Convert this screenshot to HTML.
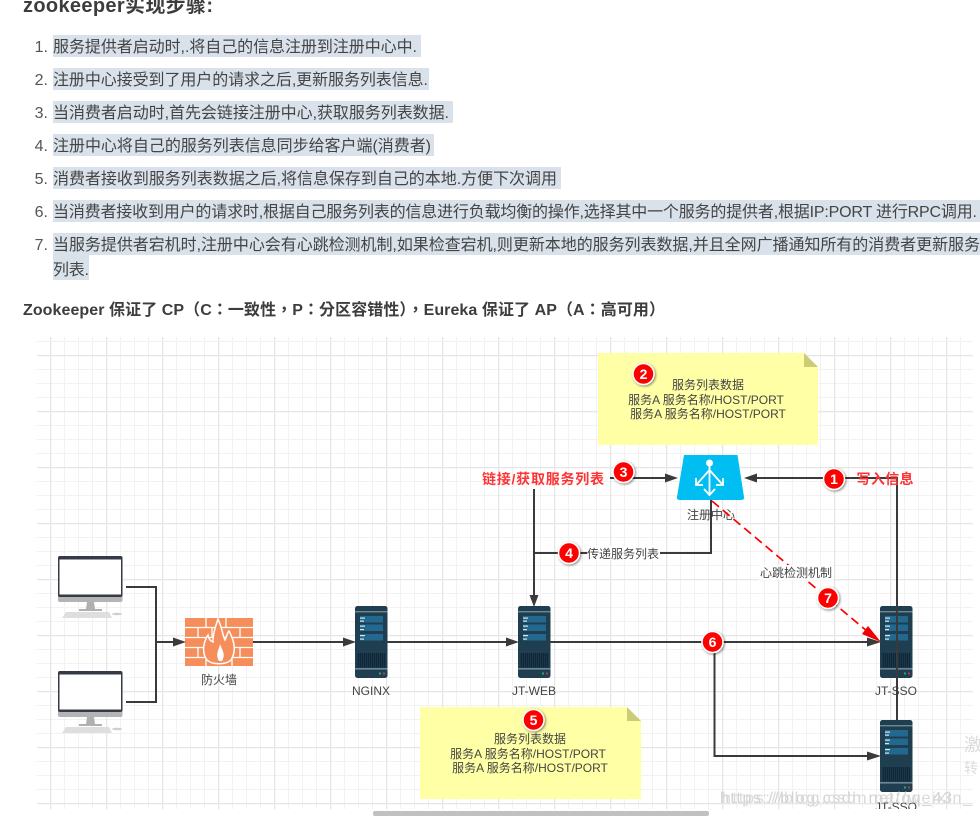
<!DOCTYPE html>
<html>
<head>
<meta charset="utf-8">
<style>
html,body{margin:0;padding:0;background:#fff;width:980px;height:816px;overflow:hidden}
svg{display:block;font-family:"Liberation Sans","Noto Sans CJK SC",sans-serif}
.li{font-size:16px;fill:#444}
.n{font-size:16px;fill:#555;text-anchor:end}
.b{font-size:16px;font-weight:bold;fill:#3d3d3d;font-family:"Liberation Sans","Noto Sans CJK TC",sans-serif}
.t{font-size:12px;fill:#444;text-anchor:middle}
.r{font-size:14px;font-weight:bold;fill:#ff3333;text-anchor:middle}
.c{font-size:14px;font-weight:bold;fill:#fff;text-anchor:middle;font-family:"Liberation Sans",sans-serif}
.l{stroke:#3a3a3a;stroke-width:2;fill:none}
.a{fill:#3a3a3a}
.w{fill:#dcdcdc}
</style>
</head>
<body>
<svg width="980" height="816" viewBox="0 0 980 816" xmlns="http://www.w3.org/2000/svg">
<defs>
<pattern id="g" patternUnits="userSpaceOnUse" x="50" y="355" width="56" height="56">
<path d="M14.5 0V56M28.5 0V56M42.5 0V56M0 14.5H56M0 28.5H56M0 42.5H56" stroke="#f2f2f2" stroke-width="1" fill="none"/>
<path d="M.5 0V56M0 .5H56" stroke="#e6e6e6" stroke-width="1.5" fill="none"/>
</pattern>
<pattern id="gr" patternUnits="userSpaceOnUse" width="2" height="4">
<rect width="2" height="4" fill="#10283a"/><rect width="1" height="4" fill="#1a3648"/>
</pattern>
<filter id="s" x="-30%" y="-30%" width="170%" height="170%"><feDropShadow dx="1" dy="1" stdDeviation="1.2" flood-color="#000" flood-opacity=".5"/></filter>
<g id="srv">
<rect width="32.5" height="72" rx="2.5" fill="#1f3f50"/>
<rect y="5" width="32.5" height="1.4" fill="#6f8794"/>
<rect y="62" width="32.5" height="1.6" fill="#6f8794"/>
<rect x="5" y="10" width="23" height="6.5" fill="#23698f"/>
<rect x="5" y="18.5" width="23" height="6.5" fill="#23698f"/>
<rect x="5" y="28" width="23" height="6.5" fill="#23698f"/>
<rect x="5" y="11.5" width="5" height="1.2" fill="#d6e8f0"/>
<rect x="5" y="14.5" width="4" height="1.2" fill="#d6e8f0"/>
<rect x="5" y="19.5" width="5" height="1.2" fill="#d6e8f0"/>
<rect x="5" y="23" width="4" height="1.2" fill="#d6e8f0"/>
<rect x="5" y="29" width="5" height="1.2" fill="#d6e8f0"/>
<rect x="5" y="32.5" width="4" height="1.2" fill="#d6e8f0"/>
<rect x="2" y="47" width="28.5" height="14.5" fill="url(#gr)"/>
<rect x="24" y="66.5" width="2" height="2" fill="#2fa56a"/>
<rect x="28" y="66.5" width="2" height="2" fill="#c2344a"/>
</g>
<g id="mon">
<rect width="64.5" height="46" rx="2" fill="#b4b4b4"/>
<rect width="64.5" height="41" rx="2" fill="#343a46"/>
<rect x="1.5" y="3.5" width="61.5" height="35" fill="#fff"/>
<path d="M29 46h7l1 7h-9z" fill="#b0b0b0"/>
<rect x="21" y="53" width="23" height="2" fill="#b0b0b0"/>
<path d="M8 56h43l3 6H4z" fill="#dedede"/>
<ellipse cx="59" cy="58" rx="5" ry="1.3" fill="#cfcfcf"/>
</g>
</defs>

<rect width="980" height="816" fill="#fff"/>

<text x="23" y="12" font-size="20" font-weight="bold" fill="#3d3d3d" textLength="190">zookeeper实现步骤:</text>

<g fill="#d9e2ea">
<rect x="53" y="35" width="368" height="22"/>
<rect x="53" y="68" width="376" height="22"/>
<rect x="53" y="101" width="400" height="22"/>
<rect x="53" y="134" width="381" height="22"/>
<rect x="53" y="167" width="508" height="22"/>
<rect x="53" y="200" width="927" height="22"/>
<rect x="53" y="233" width="927" height="22"/>
<rect x="53" y="255" width="36" height="25"/>
</g>
<text class="n" x="48" y="52">1.</text>
<text class="n" x="48" y="85">2.</text>
<text class="n" x="48" y="118">3.</text>
<text class="n" x="48" y="151">4.</text>
<text class="n" x="48" y="184">5.</text>
<text class="n" x="48" y="217">6.</text>
<text class="n" x="48" y="250">7.</text>
<text class="li" x="53" y="52" textLength="364">服务提供者启动时,.将自己的信息注册到注册中心中.</text>
<text class="li" x="53" y="85" textLength="375">注册中心接受到了用户的请求之后,更新服务列表信息.</text>
<text class="li" x="53" y="118" textLength="396">当消费者启动时,首先会链接注册中心,获取服务列表数据.</text>
<text class="li" x="53" y="151" textLength="378">注册中心将自己的服务列表信息同步给客户端(消费者)</text>
<text class="li" x="53" y="184" textLength="504">消费者接收到服务列表数据之后,将信息保存到自己的本地.方便下次调用</text>
<text class="li" x="53" y="217" textLength="924">当消费者接收到用户的请求时,根据自己服务列表的信息进行负载均衡的操作,选择其中一个服务的提供者,根据IP:PORT 进行RPC调用.</text>
<text class="li" x="53" y="250" textLength="927">当服务提供者宕机时,注册中心会有心跳检测机制,如果检查宕机,则更新本地的服务列表数据,并且全网广播通知所有的消费者更新服务</text>
<text class="li" x="53" y="275" textLength="36">列表.</text>
<text class="b" x="23" y="315" textLength="642">Zookeeper 保证了 CP（C：一致性，P：分区容错性），Eureka 保证了 AP（A：高可用）</text>

<rect x="37" y="337" width="936" height="472" fill="url(#g)"/>

<!-- notes -->
<path d="M598 353H804L818 367V445H598Z" fill="#ffffa6"/>
<path d="M804 353L818 367H804Z" fill="#cccc78"/>
<path d="M420 707H627L641 721V799H420Z" fill="#ffffa6"/>
<path d="M627 707L641 721H627Z" fill="#cccc78"/>
<text class="t" x="708" y="389">服务列表数据</text>
<text class="t" x="706" y="404">服务A 服务名称/HOST/PORT</text>
<text class="t" x="708" y="418">服务A 服务名称/HOST/PORT</text>
<text class="t" x="530" y="743">服务列表数据</text>
<text class="t" x="528" y="758">服务A 服务名称/HOST/PORT</text>
<text class="t" x="530" y="772">服务A 服务名称/HOST/PORT</text>

<!-- monitors -->
<use href="#mon" x="58" y="556"/>
<use href="#mon" x="58" y="671"/>

<!-- firewall -->
<rect x="185" y="618" width="68" height="48" fill="#f58e5a"/>
<path d="M185 627.5H253M185 637.5H253M185 647.5H253M185 657.5H253M206 618V627M226 618V627M198 628V637M212 628V637M240 628V637M206 638V647M232 638V647M198 648V657M240 648V657M206 658V666M232 658V666" stroke="#fff" stroke-width="1.3" fill="none"/>
<path d="M218 619C223 630 222 634 225 640C227 636 227 633 229 631C235 642 236 652 231 660C226 665 212 665 207 660C201 652 204 641 208 635C209 640 211 641 213 642C213 634 215 628 218 619Z" fill="#f58e5a" stroke="#fff" stroke-width="1.5"/>
<path d="M219 661C215 654 219 650 220 644C222 650 226 654 222 661Z" fill="#fff"/>
<text class="t" x="219" y="684">防火墙</text>

<!-- servers -->
<use href="#srv" x="355" y="606"/>
<use href="#srv" x="518" y="606"/>
<use href="#srv" x="880" y="606"/>
<use href="#srv" x="880" y="720"/>
<text class="t" x="371" y="695">NGINX</text>
<text class="t" x="534" y="695">JT-WEB</text>
<text class="t" x="896" y="695">JT-SSO</text>
<text class="t" x="896" y="811">JT-SSO</text>
<rect x="860" y="809" width="60" height="7" fill="#fff"/>

<!-- registry -->
<path d="M684 455H737.500L744 497Q744.500 500 741 500H680Q676.500 500 677 497Z" fill="#00bdf2"/>
<g stroke="#fff" stroke-width="1.8" fill="none">
<path d="M709.500 464V494"/>
<path d="M709.500 470L697 484M709.500 470L722 484"/>
<path d="M704 489L709.500 495L715 489M696 478V485H703M723 478V485H716"/>
</g>
<circle cx="709.500" cy="463" r="3.500" fill="#fff"/>
<text class="t" x="711" y="519">注册中心</text>

<!-- connectors -->
<path class="l" d="M126 587H156V702H126M156 642H175"/>
<path class="a" d="M173 637.500L186 642L173 646.500Z"/>
<path class="l" d="M253 642H345"/>
<path class="a" d="M343 637.500L356 642L343 646.500Z"/>
<path class="l" d="M387 642H508"/>
<path class="a" d="M506 637.500L519 642L506 646.500Z"/>
<path class="l" d="M550 642H870"/>
<path class="a" d="M867 637.500L881 642L867 646.500Z"/>
<path class="l" d="M714.500 650V756H870"/>
<path class="a" d="M867 751.500L881 756L867 760.500Z"/>
<path class="l" d="M610 478H667"/>
<path class="a" d="M665 473.500L678 478L665 482.500Z"/>
<path class="l" d="M897 720V478H755"/>
<path class="a" d="M757 473.500L744 478L757 482.500Z"/>
<path class="l" d="M534 489V597"/>
<path class="a" d="M529.500 595L534 607L538.500 595Z"/>
<path class="l" d="M534 553H711V500"/>
<path d="M712 501L874 637" stroke="#ff0000" stroke-width="1.700" stroke-dasharray="9 5" fill="none"/>
<path d="M868 626L881 642L862 634Z" fill="#f00000"/>

<!-- labels -->
<rect x="587" y="546" width="73" height="14" fill="#fff"/>
<text class="t" x="623" y="558">传递服务列表</text>
<rect x="759" y="565" width="74" height="15" fill="#fff"/>
<text class="t" x="796" y="577">心跳检测机制</text>
<text class="r" x="543" y="484" textLength="122">链接/获取服务列表</text>
<text class="r" x="885" y="484" textLength="57">写入信息</text>

<!-- badges -->
<g filter="url(#s)">
<circle cx="834" cy="479" r="10.500" fill="#f00" stroke="#fff" stroke-width="1.500"/>
<circle cx="643.500" cy="374" r="10.500" fill="#f00" stroke="#fff" stroke-width="1.500"/>
<circle cx="623.500" cy="472" r="10.500" fill="#f00" stroke="#fff" stroke-width="1.500"/>
<circle cx="569" cy="553" r="10.500" fill="#f00" stroke="#fff" stroke-width="1.500"/>
<circle cx="533.500" cy="720" r="10.500" fill="#f00" stroke="#fff" stroke-width="1.500"/>
<circle cx="712.500" cy="642" r="10.500" fill="#f00" stroke="#fff" stroke-width="1.500"/>
<circle cx="828" cy="598" r="10.500" fill="#f00" stroke="#fff" stroke-width="1.500"/>
</g>
<text class="c" x="834" y="484">1</text>
<text class="c" x="643.500" y="379">2</text>
<text class="c" x="623.500" y="477">3</text>
<text class="c" x="569" y="558">4</text>
<text class="c" x="533.500" y="725">5</text>
<text class="c" x="712.500" y="647">6</text>
<text class="c" x="828" y="603">7</text>

<!-- watermarks and scrollbar -->
<text class="w" x="964" y="751" font-size="18">激</text>
<text class="w" x="964" y="773" font-size="14">转</text>
<text x="720" y="803" font-size="16" fill="#d2d2d2" textLength="232">https://blog.csdn.net/qq_43</text>
<text x="722" y="803" font-size="16" fill="#dadada" textLength="250">https://blog.csdn.net/weixin_</text>
<rect x="373" y="811" width="336" height="5" rx="2" fill="#c1c1c1"/>
</svg>
</body>
</html>
